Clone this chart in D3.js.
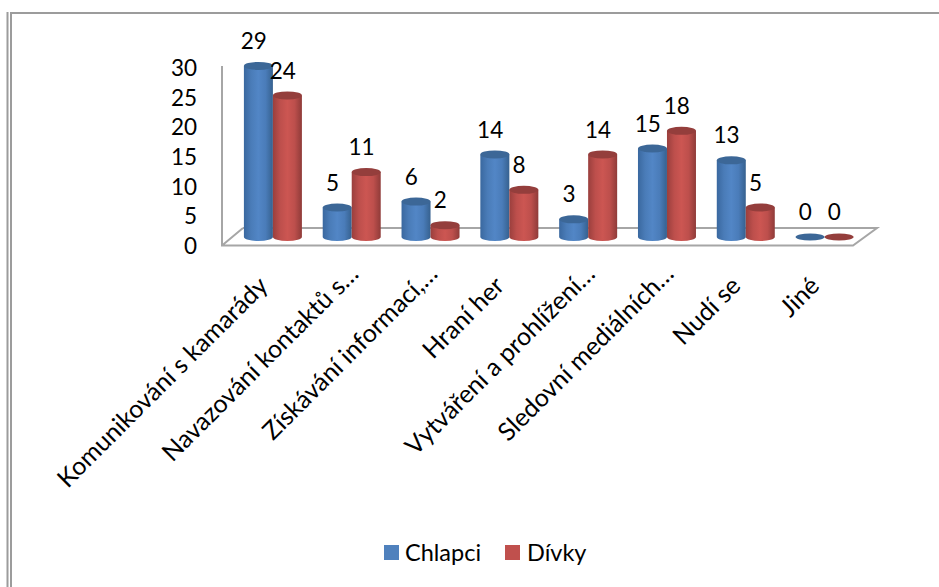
<!DOCTYPE html>
<html><head><meta charset="utf-8">
<script src="https://cdnjs.cloudflare.com/ajax/libs/d3/7.8.5/d3.min.js"></script>
<style>html,body{margin:0;padding:0;background:#fff}svg{display:block}text{font-family:Lato,"Open Sans",sans-serif;fill:#000}</style>
</head><body><svg id="c" width="939" height="587"></svg>
<script>
const categories = ["Komunikování s kamarády","Navazování kontaktů s…","Získávání informací,…","Hraní her","Vytváření a prohlížení…","Sledovní mediálních…","Nudí se","Jiné"];
const boys = [29,5,6,14,3,15,13,0];
const girls = [24,11,2,8,14,18,5,0];
const seriesNames = ["Chlapci","Dívky"];
const tickValues = [0,5,10,15,20,25,30];

const svg = d3.select("#c");
const defs = svg.append("defs");
function grad(id, stops){
  const g = defs.append("linearGradient").attr("id",id).attr("x1","0").attr("x2","1").attr("y1","0").attr("y2","0");
  stops.forEach(s=>g.append("stop").attr("offset",s[0]).attr("stop-color",s[1]));
}
grad("gb",[[0,"#3a689f"],[0.25,"#4a7cb8"],[0.5,"#5286c6"],[0.75,"#4a7cb9"],[1,"#36618f"]]);
grad("gr",[[0,"#9a3f3d"],[0.25,"#bd4f4c"],[0.5,"#cc5652"],[0.75,"#bd4f4c"],[1,"#8f3b39"]]);

// frame
const frameColor = "#9c9c9c";
svg.append("path").attr("d","M7.5,12V587M11,587V13H939").attr("fill","none").attr("stroke",frameColor).attr("stroke-width",2);

// scales
const x = d3.scaleBand().domain(d3.range(categories.length)).range([233.5,864]);
const yBase = 237;
const y = d3.scaleLinear().domain([0,30]).range([yBase,yBase-177]);
const yTick = d3.scaleLinear().domain([0,30]).range([246,68]);
const barW = 29, rx = barW/2, ry = 4;

// floor and walls
const wall = "#a6a6a6";
const floorFront = 245.5, floorBack = 228;
svg.append("path").attr("d",`M222,66V${floorFront}H853L877,${floorBack}H243M222,${floorFront}L243,${floorBack}`)
  .attr("fill","none").attr("stroke",wall).attr("stroke-width",2);

// y ticks
svg.append("g").selectAll("text").data(tickValues).join("text")
  .attr("x",197).attr("y",d=>yTick(d)).attr("dy","0.36em").attr("text-anchor","end")
  .attr("font-size",22.5).text(d=>d);

function cyl(cx, v, fillId, top){
  const g = svg.append("g");
  const yt = y(v), yb = yBase;
  if(v>0){
    g.append("path").attr("d",`M${cx-rx},${yt}V${yb}A${rx},${ry} 0 0 0 ${cx+rx},${yb}V${yt}Z`).attr("fill",`url(#${fillId})`);
  }
  g.append("ellipse").attr("cx",cx).attr("cy",v>0?yt:yBase).attr("rx",rx).attr("ry",v>0?ry:3.5).attr("fill",top);
}
categories.forEach((c,i)=>{
  const c1 = x(i)+x.bandwidth()/2-barW/2, c2 = c1+barW;
  cyl(c1,boys[i],"gb","#3c6797");
  cyl(c2,girls[i],"gr","#943e3c");
});
categories.forEach((c,i)=>{
  const c1 = x(i)+x.bandwidth()/2-barW/2, c2 = c1+barW;
  [[c1,boys[i]],[c2,girls[i]]].forEach(([cx,v])=>{
    svg.append("text").attr("x",cx-4.7).attr("y",y(v)-25).attr("dy","0.36em").attr("text-anchor","middle").attr("font-size",22.5).text(v);
  });
  const trunc = c.endsWith("…") ? 12 : 0;
  svg.append("text").attr("transform",`translate(${x(i)+x.bandwidth()/2-10+trunc},${281-trunc}) rotate(-45)`).attr("text-anchor","end").attr("dy","0.36em").attr("font-size",25).text(c);
});

// legend
const legend = [[384,405,"#4f81bd"],[505,527,"#c0504d"]];
legend.forEach((l,i)=>{
  svg.append("rect").attr("x",l[0]).attr("y",545).attr("width",15).attr("height",15).attr("fill",l[2]);
  svg.append("text").attr("x",l[1]).attr("y",553).attr("dy","0.36em").attr("font-size",23.5).text(seriesNames[i]);
});
</script></body></html>
